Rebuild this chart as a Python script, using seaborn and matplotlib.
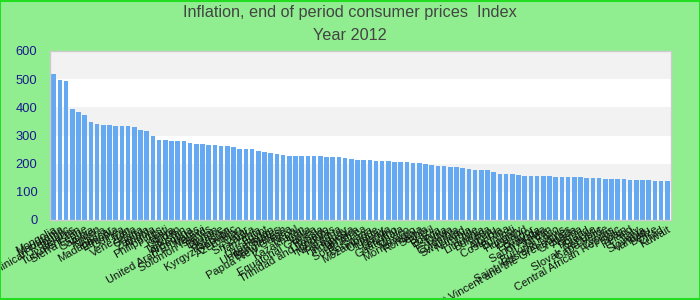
import matplotlib
matplotlib.use("Agg")
import matplotlib.pyplot as plt
import seaborn as sns
import pandas as pd

countries = [
    "Mongolia", "Mauritania", "Dominican Republic", "Belarus", "Turkmenistan",
    "Sierra Leone", "Gambia", "Yemen", "Nigeria", "Madagascar",
    "Ethiopia", "Guinea", "Iran", "Venezuela", "Ghana",
    "Zambia", "Angola", "Philippines", "Haiti", "Kenya",
    "Sudan", "Tajikistan", "Argentina", "United Arab Emirates", "Malawi",
    "Solomon Islands", "Bhutan", "Ukraine", "Pakistan", "Kyrgyz Republic",
    "Azerbaijan", "Qatar", "Sri Lanka", "Tanzania", "Egypt",
    "Uzbekistan", "United States", "Bangladesh", "Papua New Guinea", "Nepal",
    "Kazakhstan", "India", "Equatorial Guinea", "Russia", "Trinidad and Tobago",
    "Honduras", "Nicaragua", "Paraguay", "Indonesia", "Jamaica",
    "South Africa", "Botswana", "Mozambique", "Uruguay", "Uganda",
    "Lesotho", "Guatemala", "Mexico", "Montenegro", "Romania",
    "Serbia", "Brazil", "Bolivia", "Estonia", "Latvia",
    "Colombia", "Swaziland", "Namibia", "Chile", "Lithuania",
    "Bulgaria", "Peru", "Albania", "Costa Rica", "Burundi",
    "Hungary", "Iceland", "Ecuador", "Rwanda", "Saudi Arabia",
    "Jordan", "Burkina Faso", "Saint Kitts and Nevis", "Saint Vincent and the Grenadines", "Grenada",
    "Algeria", "Poland", "Greece", "Slovak Republic", "Cape Verde",
    "Cyprus", "Central African Republic", "Spain", "Ireland", "Italy",
    "Slovenia", "Vanuatu", "Belize", "Chad", "Kuwait",
]

values = [
    518, 497, 493, 394, 383, 373, 348, 341, 337, 337,
    334, 334, 334, 330, 320, 316, 298, 284, 284, 280,
    280, 280, 273, 270, 270, 266, 266, 263, 263, 259,
    252, 252, 252, 245, 241, 238, 234, 231, 227, 227,
    227, 227, 227, 227, 224, 224, 224, 220, 217, 213,
    213, 213, 209, 209, 209, 206, 206, 206, 202, 202,
    199, 195, 192, 192, 188, 188, 185, 181, 178, 178,
    178, 170, 163, 163, 163, 160, 156, 156, 156, 156,
    156, 153, 153, 153, 153, 153, 149, 149, 149, 146,
    146, 146, 146, 142, 142, 142, 142, 138, 138, 138,
]

title_line1 = "Inflation, end of period consumer prices  Index"
title_line2 = "Year 2012"
y_ticks = [0, 100, 200, 300, 400, 500, 600]

df = pd.DataFrame({"country": countries, "value": values})

sns.set_theme(style="white")
plt.rcParams["font.family"] = ["Liberation Sans", "DejaVu Sans"]

fig = plt.figure(figsize=(7, 3), dpi=100, facecolor="#90EE90")
ax = fig.add_axes([50 / 700, 80 / 300, 620.7 / 700, 169 / 300])
ax.set_facecolor("white")

for lo in (100, 300, 500):
    ax.axhspan(lo, lo + 100, color="#f2f2f2", zorder=0, lw=0)

sns.barplot(data=df, x="country", y="value", color="#64A9F1", saturation=1,
            width=0.74, ax=ax, zorder=2, linewidth=0)

ax.set_ylim(0, 600)
ax.set_xlim(-0.6, len(countries) - 0.45)
ax.set_yticks(y_ticks)
ax.set_yticklabels([str(t) for t in y_ticks], color="#1a1a8c", fontsize=9.3)
ax.set_xlabel("")
ax.set_ylabel("")
ax.tick_params(axis="y", length=0, pad=9)
ax.set_xticks(range(len(countries)))
ax.set_xticklabels(countries, rotation=30, ha="right", rotation_mode="anchor",
                   fontsize=8, color="#111111")
ax.tick_params(axis="x", length=0, pad=3)
for s in ax.spines.values():
    s.set_visible(True)
    s.set_color("#cccccc")
    s.set_linewidth(1)

fig.text(0.5, 1 - 13 / 300, title_line1, ha="center", va="center",
         fontsize=11.7, color="#444444")
fig.text(0.5, 1 - 36 / 300, title_line2, ha="center", va="center",
         fontsize=11.7, color="#444444")

border = plt.Rectangle((0.0007, 0.0017), 0.9986, 0.9966, transform=fig.transFigure,
                       fill=False, edgecolor="#22dd22", linewidth=1.5)
fig.patches.append(border)

fig.savefig("out.png", dpi=100, facecolor=fig.get_facecolor())
